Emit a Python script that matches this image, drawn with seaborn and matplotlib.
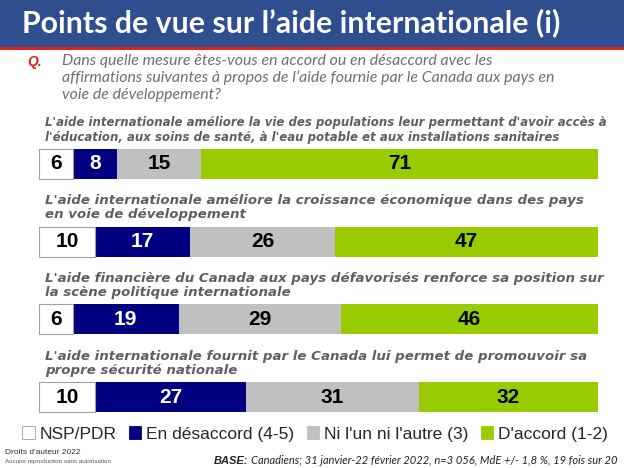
import matplotlib
matplotlib.use("Agg")
import matplotlib.pyplot as plt
import seaborn as sns
import pandas as pd
import numpy as np
from matplotlib.patches import Patch, Rectangle

# Data
statements = [
    "L'aide internationale améliore la vie des populations leur permettant d'avoir accès à\nl'éducation, aux soins de santé, à l'eau potable et aux installations sanitaires",
    "L'aide internationale améliore la croissance économique dans des pays\nen voie de développement",
    "L'aide financière du Canada aux pays défavorisés renforce sa position sur\nla scène politique internationale",
    "L'aide internationale fournit par le Canada lui permet de promouvoir sa\npropre sécurité nationale",
]
categories = ["NSP/PDR", "En désaccord (4-5)", "Ni l'un ni l'autre (3)", "D'accord (1-2)"]
nsp = [6, 10, 6, 10]
desaccord = [8, 17, 19, 27]
neutre = [15, 26, 29, 31]
accord = [71, 47, 46, 32]

colors = ["#FFFFFF", "#000080", "#C0C0C0", "#99CC00"]
text_colors = ["black", "white", "black", "black"]

df = pd.DataFrame({"row": [f"s{i}" for i in range(4)], categories[0]: nsp,
                   categories[1]: desaccord, categories[2]: neutre, categories[3]: accord})
vals = df[categories].to_numpy()
cum = np.cumsum(vals, axis=1)

sns.set_theme(style="white")
plt.rcParams["font.family"] = ["Liberation Sans", "DejaVu Sans"]

fig = plt.figure(figsize=(6.24, 4.68), dpi=100)

# title band
fig.patches.append(Rectangle((0, 1 - 47 / 468), 1, 47 / 468, transform=fig.transFigure,
                             facecolor="#2E4E8F", edgecolor="none", zorder=0))
fig.patches.append(Rectangle((0, 1 - 50 / 468), 1, 3 / 468, transform=fig.transFigure,
                             facecolor="#E0201B", edgecolor="none", zorder=0))
fig.text(0.035, 1 - 23 / 468, "Points de vue sur l\u2019aide internationale (i)", color="white",
         fontsize=21.8, fontweight="bold", family=["Lato", "DejaVu Sans"], va="center", ha="left")

fig.text(0.043, 1 - 62 / 468, "Q.", color="#E0201B", fontsize=10, fontweight="bold",
         style="italic", va="center")
fig.text(0.099, 1 - 54 / 468,
         "Dans quelle mesure êtes-vous en accord ou en désaccord avec les\n"
         "affirmations suivantes à propos de l\u2019aide fournie par le Canada aux pays en\n"
         "voie de développement?",
         color="#6E6E6E", fontsize=11.4, style="italic", family=["Lato", "DejaVu Sans"],
         va="top", ha="left", linespacing=1.22)

# bars area
ax = fig.add_axes([39 / 624, 1 - 436 / 468, 559 / 624, 311 / 468])
for j in range(3, -1, -1):
    sns.barplot(x=cum[:, j], y=df["row"], color=colors[j], orient="h", width=0.385,
                edgecolor="#A0A0A0" if j == 0 else "none", linewidth=0.8 if j == 0 else 0,
                saturation=1, ax=ax)
ax.set_xlim(0, 100)
ax.set_ylim(3.5, -0.5)
ax.axis("off")

for i in range(4):
    for j in range(4):
        left = cum[i, j] - vals[i, j]
        ax.text(left + vals[i, j] / 2, i, str(vals[i, j]), ha="center", va="center",
                fontsize=15, fontweight="bold", color=text_colors[j])
    fs = 8.5 if i == 0 else 9.6
    ax.text(1.1, i - 0.26, statements[i], ha="left", va="bottom", fontsize=fs,
            fontweight="bold", style="italic", color="#5F5F5F", linespacing=1.12,
            family=["DejaVu Sans"])

# legend
handles = [Patch(facecolor=c, edgecolor="#A0A0A0" if c == "#FFFFFF" else c, linewidth=0.6)
           for c in colors]
fig.legend(handles, categories, loc="center", bbox_to_anchor=(0.505, 1 - 434 / 468), ncol=4,
           frameon=False, fontsize=12.5, handlelength=0.7, handleheight=0.7,
           handletextpad=0.3, columnspacing=0.7, borderpad=0)

# footer
fig.text(0.008, 1 - 452 / 468, "Droits d'auteur 2022", fontsize=6, va="center", color="#333333")
fig.text(0.008, 1 - 461 / 468, "Aucune reproduction sans autorisation", fontsize=4.5,
         va="center", color="#555555")
base = fig.text(0.99, 1 - 461 / 468,
                "Canadiens; 31 janvier-22 février 2022, n=3 056, MdE +/- 1,8 %, 19 fois sur 20",
                fontsize=8, style="italic", va="center", ha="right", color="#222222",
                family=["Lato", "DejaVu Sans"])
fig.canvas.draw()
bb = base.get_window_extent().transformed(fig.transFigure.inverted())
fig.text(bb.x0 - 0.004, 1 - 461 / 468, "BASE:", fontsize=8, fontweight="bold", style="italic",
         va="center", ha="right", color="#222222")

fig.savefig("out.png", dpi=100)
